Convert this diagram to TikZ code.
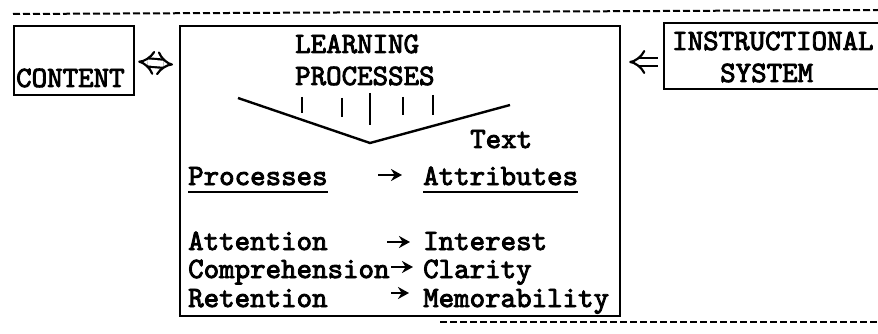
\documentclass[tikz,border=0pt]{standalone}
\usepackage{fontspec}
\newfontfamily\cour{lmmono10-regular}[Extension=.otf, FakeBold=3]
\usetikzlibrary{arrows.meta}
\begin{document}
\begin{tikzpicture}[x=1pt,y=-1pt,
 txt/.style={font=\cour\fontsize{29.5}{31}\selectfont, inner sep=0pt, anchor=base west},
 box/.style={draw, line width=2.2pt, inner sep=0pt, anchor=north west},
 sarr/.style={line width=2.4pt, -{Stealth[length=11pt,width=12pt]}},
 dashline/.style={line width=2pt, dash pattern=on 7pt off 3pt},
 hollow/.style={double, line width=2.2pt, double distance=6pt},
 rule/.style={line width=2pt}
]
\useasboundingbox (0,0) rectangle (878,334);
\clip (0,0) rectangle (878,334);
% dashed frame lines
\coordinate (dl1) at (13,14);
\coordinate (dl2) at (878,10);
\draw[dashline] (dl1) -- (dl2);
\coordinate (db1) at (440,322);
\coordinate (db2) at (878,322);
\draw[dashline] (db1) -- (db2);
% boxes
\node[box, minimum width=120pt, minimum height=69pt] (content) at (13,25) {};
\node[txt] (contenttxt) at (16,87) {CONTENT};
\node[box, minimum width=440pt, minimum height=290pt] (lp) at (179,25) {};
\node[box, minimum width=230pt, minimum height=66pt] (instr) at (663,22) {};
\node[txt] (instrtxt1) at (672,50) {INSTRUCTIONAL};
\node[txt] (instrtxt2) at (720,82) {SYSTEM};
% hollow arrows
\draw[hollow, {Implies[scale=1.5]}-{Implies[scale=1.5]}] ([xshift=3pt,yshift=-1pt]content.east) -- ([xshift=-6pt,yshift=-4pt]lp.west |- content.east);
\draw[hollow, {Implies[scale=1.5]}-] ([xshift=8pt]lp.east |- 0,62) -- ([xshift=-5pt]instr.west |- 0,62);
% learning processes
\node[txt] (learn1) at (295,53) {LEARNING};
\node[txt] (learn2) at (295,85) {PROCESSES};
\coordinate (vl) at (238,98);
\coordinate (va) at (370,143);
\coordinate (vr) at (510,105);
\draw[line width=2.4pt, line join=miter] (vl) -- (va) -- (vr);
\foreach \x/\a/\b in {302/97/113, 342/98/117, 370/93/125, 403/97/115, 433/95/115}
  \draw[line width=2.6pt] (\x,\a) -- (\x,\b);
% columns
\node[txt] (texttxt) at (470,148) {Text};
\node[txt] (proc) at (188,185) {Processes};
\node[txt] (attr) at (423,185) {Attributes};
\draw[rule] ([yshift=-7pt]proc.base west) -- ([yshift=-7pt]proc.base east);
\draw[rule] ([yshift=-7pt]attr.base west) -- ([yshift=-7pt]attr.base east);
\node[txt] (att) at (188,250) {Attention};
\node[txt] (int) at (423,250) {Interest};
\node[txt] (comp) at (188,278) {Comprehension};
\node[txt] (clar) at (423,278) {Clarity};
\node[txt] (ret) at (188,307) {Retention};
\node[txt] (mem) at (423,307) {Memorability};
% small arrows
\draw[sarr] ([xshift=-45pt,yshift=10pt]attr.base west) -- ([xshift=-21pt,yshift=10pt]attr.base west);
\draw[sarr] ([xshift=-36pt,yshift=8pt]int.base west) -- ([xshift=-13pt,yshift=8pt]int.base west);
\draw[sarr] ([xshift=-32pt,yshift=11pt]clar.base west) -- ([xshift=-10pt,yshift=11pt]clar.base west);
\draw[sarr] ([xshift=-32pt,yshift=14pt]mem.base west) -- ([xshift=-14pt,yshift=14pt]mem.base west);
\end{tikzpicture}
\end{document}
